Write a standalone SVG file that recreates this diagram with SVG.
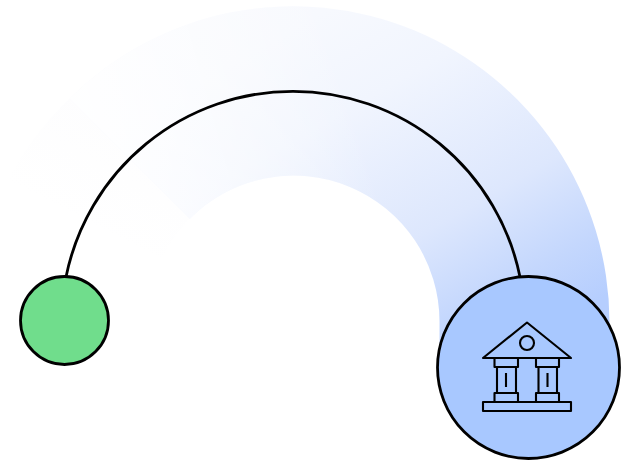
<svg xmlns="http://www.w3.org/2000/svg" width="630" height="462" viewBox="0 0 630 462">
<style>
.o{stroke:#000;stroke-width:2.8;fill:none}
.i{stroke:#000;stroke-width:2.1;fill:none;stroke-linejoin:round}
</style>
<defs>
<linearGradient id="g" gradientUnits="userSpaceOnUse" x1="528" y1="340" x2="288" y2="-78">
<stop offset="0" stop-color="#b6cefe"/>
<stop offset="0.12" stop-color="#c4d7fd"/>
<stop offset="0.3" stop-color="#dde7fd"/>
<stop offset="0.6" stop-color="#f1f5fe"/>
<stop offset="0.8" stop-color="#f7f9fe"/>
<stop offset="1" stop-color="#f9fafe"/>
</linearGradient>
<linearGradient id="w" gradientUnits="userSpaceOnUse" x1="110" y1="190" x2="360" y2="120">
<stop offset="0" stop-color="#fff" stop-opacity="0.92"/>
<stop offset="1" stop-color="#fff" stop-opacity="0"/>
</linearGradient>
<linearGradient id="g2" gradientUnits="userSpaceOnUse" x1="130" y1="110" x2="70" y2="220">
<stop offset="0" stop-color="#fdfdfe"/>
<stop offset="1" stop-color="#ffffff"/>
</linearGradient>
</defs>
<path id="band-fade" d="M69.6 98.6A316 316 0 0 0 8 180L162 258A146 146 0 0 1 189.800 218.800Z" fill="url(#g2)"/>
<path id="band" d="M609.500 322A316.500 316.500 0 0 0 69.600 98.600L189.800 218.800A146 146 0 0 1 439.500 322V350H609.500Z" fill="url(#g)"/>
<path id="band-veil" d="M609.500 322A316.500 316.500 0 0 0 69.600 98.600L189.800 218.800A146 146 0 0 1 439.500 322V350H609.500Z" fill="url(#w)"/>
<g id="connectors">
<path class="o" d="M66 277A231.600 231.600 0 0 1 520 277"/>
</g>
<g id="source">
<circle cx="64.500" cy="320.500" r="44" class="o" style="fill:#70dd8c"/>
</g>
<g id="bank">
<circle cx="528.500" cy="367.500" r="91" class="o" style="fill:#a8c8ff"/>
<path class="i" d="M483 358L527 322.500L571 358Z"/>
<circle class="i" cx="527" cy="343" r="7"/>
<path class="i" d="M494.500 358V367H518V358M497 367V393M516 367V393M494.500 402V393H518V402M506 373V387"/>
<path class="i" d="M536 358V367H559V358M538.500 367V393M557 367V393M536 402V393H559V402M547.500 373V387"/>
<rect class="i" x="483" y="402" width="88" height="9"/>
</g>
</svg>
